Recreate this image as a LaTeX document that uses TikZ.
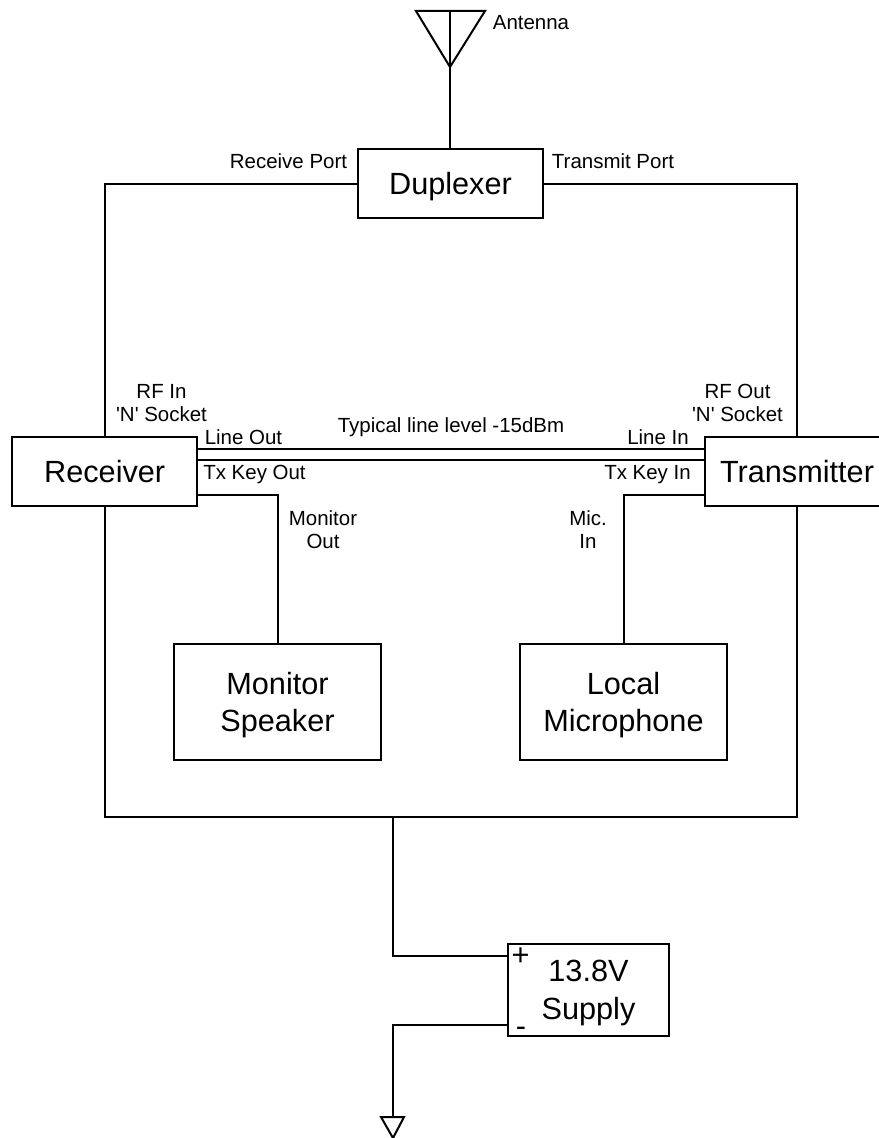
\documentclass[tikz,border=0pt]{standalone}
\usepackage{fontspec}
\setmainfont{Liberation Sans}
\newcommand{\bigtext}{\fontsize{23}{28.2}\selectfont}
\newcommand{\smalltext}{\fontsize{15.35}{17.3}\selectfont}
\tikzset{
  box/.style={draw,align=center,inner sep=0pt,text depth=0pt,font=\bigtext},
  lbl/.style={align=center,inner sep=0pt,text depth=0pt,font=\smalltext},
  sign/.style={inner sep=0pt,font=\bigtext},
}
\begin{document}
\begin{tikzpicture}[x=0.75pt,y=-0.75pt,line width=1.5pt,line join=miter]
  \useasboundingbox (0,0) rectangle (878,1138);
  \node[box,minimum width=138.5pt,minimum height=52pt] (duplexer) at (450.5,183.5) {Duplexer};
  \node[box,minimum width=138.5pt,minimum height=52pt] (receiver) at (104.7,471.5) {Receiver};
  \node[box,minimum width=138.5pt,minimum height=52pt] (transmitter) at (797,471.5) {Transmitter};
  \node[box,minimum width=155pt,minimum height=87pt] (speaker) at (277.5,702) {Monitor\\Speaker};
  \node[box,minimum width=155pt,minimum height=87pt] (microphone) at (623.5,702) {Local\\Microphone};
  \node[box,text depth=-1.5pt,minimum width=121pt,minimum height=69pt] (supply) at (588.5,990) {13.8V\\Supply};
  \coordinate (anttip) at (450,67);
  \coordinate (anttop) at (450,11);
  \coordinate (busleft) at (receiver.south |- 0,817);
  \coordinate (busright) at (transmitter.south |- 0,817);
  \coordinate (bustap) at (393,817);
  \coordinate (gnd) at (393,1117);
  \draw (416,11) -- (485,11) -- (anttip) -- cycle;
  \draw (anttop) -- (duplexer.north -| anttop);
  \draw (duplexer.west) -| (receiver.north);
  \draw (duplexer.east) -| (transmitter.north);
  \draw (receiver.east |- 0,449) -- (transmitter.west |- 0,449);
  \draw (receiver.east |- 0,460) -- (transmitter.west |- 0,460);
  \draw (receiver.east |- 0,495) -| (speaker.north);
  \draw (transmitter.west |- 0,495) -| (microphone.north);
  \draw (receiver.south) -- (busleft) -- (busright) -- (transmitter.south);
  \draw (bustap) |- (supply.west |- 0,956);
  \draw (supply.west |- 0,1025) -| (gnd);
  \draw (381,1117) -- (404,1117) -- (393,1138) -- cycle;
  \node[lbl] (antenna) at (531,22) {Antenna};
  \node[lbl] (rxport) at (288.5,161) {Receive Port};
  \node[lbl] (txport) at (613,161) {Transmit Port};
  \node[lbl] (rfin) at (161.5,403) {RF In\\\textquotesingle N\textquotesingle{} Socket};
  \node[lbl] (rfout) at (737.5,403) {RF Out\\\textquotesingle N\textquotesingle{} Socket};
  \node[lbl] (level) at (451,425) {Typical line level -15dBm};
  \node[lbl] (lineout) at (243.5,437) {Line Out};
  \node[lbl] (linein) at (658,437) {Line In};
  \node[lbl] (keyout) at (254.5,472) {Tx Key Out};
  \node[lbl] (keyin) at (647.5,472) {Tx Key In};
  \node[lbl] (monout) at (323,530) {Monitor\\Out};
  \node[lbl] (micin) at (588,530) {Mic.\\In};
  \node[sign] (plus) at (520.5,957) {+};
  \node[sign] (minus) at (521,1032) {-};
\end{tikzpicture}
\end{document}
